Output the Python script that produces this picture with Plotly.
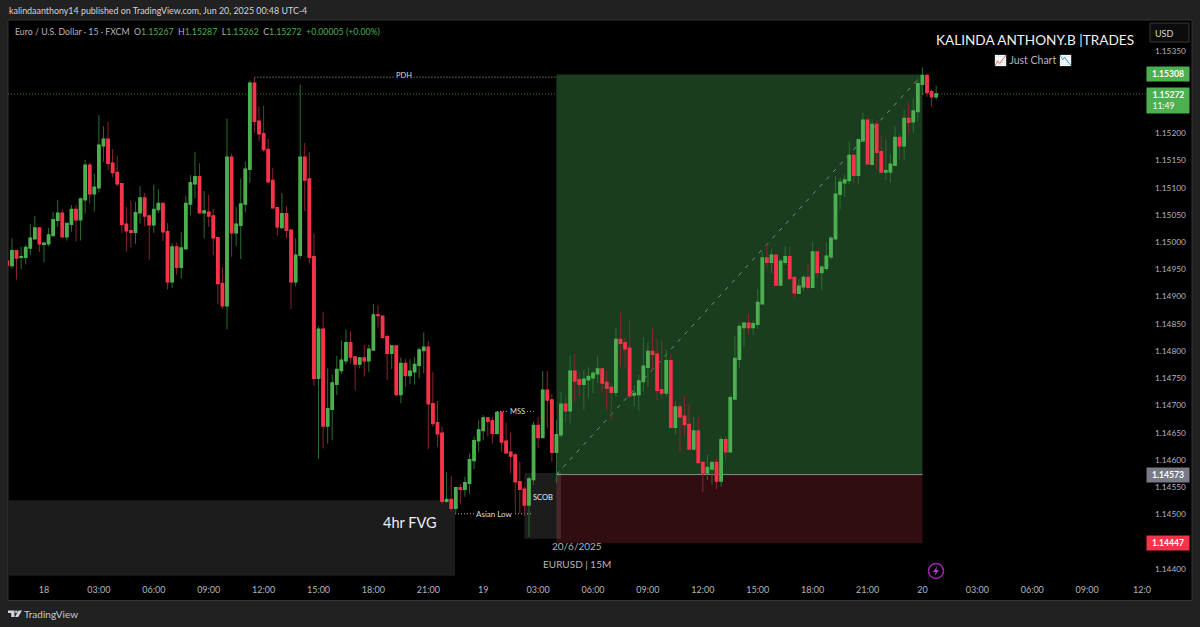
import pandas as pd
import plotly.graph_objects as go

# EURUSD 15m, values in points (price x 100000)
opens_pts = [114965,114957,114984,114972,114972,114989,115006,115026,114996,114997,115012,115040,115053,115010,115033,115060,115041,115078,115141,115089,
    115100,115177,115189,115145,115128,115107,115033,115021,115018,115054,115081,115048,115032,115060,115071,115019,114927,114991,114954,114988,
    115070,115107,115120,115054,115055,115048,115008,114924,114883,115156,115017,115031,115070,115134,115292,115222,115199,115170,115113,115063,
    115027,115052,115022,114927,114976,115156,115116,114973,114750,114840,114662,114693,114739,114764,114782,114815,114789,114776,114787,114782,
    114802,114866,114864,114826,114796,114809,114720,114777,114755,114762,114774,114801,114807,114703,114668,114649,114524,114527,114511,114549,
    114546,114557,114599,114635,114654,114677,114672,114649,114687,114634,114614,114609,114560,114546,114517,114564,114663,114641,114728,114710,
    114614,114646,114702,114690,114763,114747,114739,114747,114751,114758,114767,114742,114733,114724,114821,114815,114805,114719,114720,114744,
    114770,114799,114794,114729,114723,114782,114660,114697,114680,114665,114620,114653,114595,114576,114583,114595,114561,114637,114615,114712,
    114785,114843,114851,114843,114849,114887,114971,114963,114976,114921,114963,114973,114935,114906,114918,114935,114917,114982,114944,114952,
    114973,115006,115088,115109,115113,115159,115123,115186,115224,115143,115216,115166,115129,115129,115141,115192,115177,115227,115221,115240,
    115290,115306,115276,115267]
highs_pts = [114965,115007,114984,114992,114995,115033,115048,115026,114998,115026,115055,115077,115060,115035,115068,115068,115082,115151,115145,115126,
    115233,115213,115221,115171,115159,115108,115065,115077,115074,115103,115090,115049,115106,115097,115071,115035,114998,114999,115018,115085,
    115123,115166,115145,115094,115087,115061,115008,114954,115227,115162,115064,115117,115148,115297,115303,115249,115250,115190,115136,115063,
    115090,115066,115024,115007,115289,115182,115166,115016,114845,114872,114768,114757,114791,114819,114839,114836,114790,114788,114811,114812,
    114886,114884,114864,114831,114810,114809,114788,114785,114785,114789,114807,114834,114818,114761,114708,114661,114578,114570,114549,114556,
    114569,114612,114643,114673,114682,114679,114679,114689,114689,114668,114650,114613,114597,114551,114569,114670,114679,114763,114763,114721,
    114673,114725,114719,114791,114794,114762,114765,114770,114763,114790,114768,114763,114741,114843,114870,114824,114857,114737,114756,114825,
    114816,114843,114822,114820,114803,114794,114708,114705,114716,114702,114679,114678,114595,114609,114595,114603,114643,114643,114719,114827,
    114851,114852,114868,114856,114914,114982,114999,114987,114976,114968,114992,114993,114935,114932,114939,114959,115001,114984,114958,114999,
    115011,115121,115118,115123,115185,115160,115188,115238,115229,115226,115223,115196,115188,115162,115213,115200,115242,115256,115264,115300,
    115321,115310,115280,115287]
lows_pts = [114956,114951,114931,114950,114959,114976,115006,114982,114963,114992,115012,115028,115008,115003,115019,115001,115003,115052,115071,115056,
    115091,115148,115133,115119,115102,115016,114982,114990,114997,115034,115029,114968,115017,115053,115002,114913,114916,114940,114933,114988,
    115049,115081,115054,115007,115028,114976,114886,114877,114840,114973,114993,114969,115055,115109,115201,115185,115166,115110,115063,115012,
    115024,115007,114877,114918,114970,115057,114961,114736,114602,114621,114630,114636,114719,114758,114775,114777,114728,114768,114753,114761,
    114802,114843,114825,114747,114767,114717,114704,114734,114739,114738,114750,114759,114620,114661,114624,114519,114521,114505,114500,114520,
    114532,114538,114583,114615,114636,114643,114630,114646,114615,114611,114575,114502,114502,114497,114458,114554,114622,114641,114658,114597,
    114557,114641,114670,114667,114707,114716,114692,114713,114723,114741,114723,114692,114673,114716,114772,114768,114713,114698,114690,114725,
    114734,114765,114710,114713,114716,114660,114647,114615,114646,114619,114618,114594,114541,114563,114555,114546,114551,114601,114615,114712,
    114769,114808,114831,114829,114840,114887,114951,114943,114921,114921,114958,114933,114896,114906,114910,114913,114917,114934,114912,114947,
    114967,115006,115060,115083,115106,115108,115107,115186,115144,115143,115133,115128,115114,115109,115140,115152,115151,115200,115201,115223,
    115270,115267,115249,115262]
closes_pts = [114958,114984,114971,114973,114990,115007,115026,114997,114998,115013,115041,115053,115010,115034,115060,115041,115079,115141,115089,115101,
    115178,115189,115145,115128,115107,115033,115021,115018,115054,115081,115048,115032,115060,115071,115019,114927,114991,114954,114989,115071,
    115109,115120,115054,115057,115048,115008,114924,114883,115156,115017,115033,115070,115134,115292,115222,115199,115170,115111,115063,115028,
    115052,115022,114927,114976,115156,115114,114972,114750,114840,114662,114694,114741,114766,114783,114815,114789,114776,114787,114782,114803,
    114866,114865,114825,114796,114809,114720,114777,114755,114763,114775,114802,114807,114703,114667,114648,114524,114527,114511,114549,114546,
    114558,114600,114635,114655,114677,114671,114649,114687,114633,114613,114607,114560,114546,114517,114565,114663,114641,114728,114710,114614,
    114646,114702,114690,114763,114745,114739,114748,114753,114759,114767,114741,114732,114724,114821,114814,114804,114718,114722,114745,114772,
    114799,114794,114728,114723,114782,114660,114697,114679,114665,114620,114653,114595,114576,114586,114595,114561,114637,114615,114714,114786,
    114845,114851,114843,114850,114889,114971,114963,114976,114921,114965,114973,114933,114907,114919,114935,114917,114982,114944,114954,114974,
    115007,115088,115110,115114,115159,115123,115188,115224,115144,115216,115165,115129,115131,115143,115192,115177,115227,115220,115241,115291,
    115306,115275,115267,115272]

opens = [v / 1e5 for v in opens_pts]
highs = [v / 1e5 for v in highs_pts]
lows = [v / 1e5 for v in lows_pts]
closes = [v / 1e5 for v in closes_pts]
times = pd.date_range("2025-06-17 22:00", periods=len(opens), freq="15min")

# axis labels
price_ticks = [1.1535, 1.1520, 1.1515, 1.1510, 1.1505, 1.1500, 1.1495, 1.1490, 1.1485, 1.1480, 1.1475,
               1.1470, 1.1465, 1.1460, 1.1455, 1.1450, 1.1440]
time_ticks = ["2025-06-18 00:00", "2025-06-18 03:00", "2025-06-18 06:00", "2025-06-18 09:00", "2025-06-18 12:00",
              "2025-06-18 15:00", "2025-06-18 18:00", "2025-06-18 21:00", "2025-06-19 00:00", "2025-06-19 03:00",
              "2025-06-19 06:00", "2025-06-19 09:00", "2025-06-19 12:00", "2025-06-19 15:00", "2025-06-19 18:00",
              "2025-06-19 21:00", "2025-06-20 00:00", "2025-06-20 03:00", "2025-06-20 06:00", "2025-06-20 09:00",
              "2025-06-20 12:00"]
time_labels = ["18", "03:00", "06:00", "09:00", "12:00", "15:00", "18:00", "21:00", "19", "03:00", "06:00", "09:00",
               "12:00", "15:00", "18:00", "21:00", "20", "03:00", "06:00", "09:00", "12:0"]

# levels
target_price = 1.15308
entry_price = 1.14573
stop_price = 1.14447
last_price = 1.15272
pdh_price = 1.15303
mss_price = 1.14689
asian_low_price = 1.14501
fvg_top, fvg_bottom = 1.14526, 1.14387
scob_top, scob_bottom = 1.14576, 1.14455

UP = "#4caf50"
DOWN = "#f7334b"
UP_DIM = "#2a6e30"
DOWN_DIM = "#8a2530"
BG = "#212121"
GREY = "#b2b5be"
FONT = "Lato"


# page pixels to paper coordinates of the plot area
def px(x):
    return (x - 8) / 1140


def py(y):
    return (578 - y) / 558


fig = go.Figure()

# wicks first, then the bright bodies over them
fig.add_trace(go.Candlestick(
    x=times, open=opens, high=highs, low=lows, close=closes,
    increasing=dict(line=dict(color=UP_DIM, width=1), fillcolor=UP),
    decreasing=dict(line=dict(color=DOWN_DIM, width=1), fillcolor=DOWN),
    showlegend=False,
))
fig.add_trace(go.Candlestick(
    x=times, open=opens, close=closes,
    high=[max(o, c) for o, c in zip(opens, closes)],
    low=[min(o, c) for o, c in zip(opens, closes)],
    increasing=dict(line=dict(color=UP, width=1.5), fillcolor=UP),
    decreasing=dict(line=dict(color=DOWN, width=1.5), fillcolor=DOWN),
    showlegend=False,
))

shapes = [
    # black chart panel
    dict(type="rect", xref="paper", yref="paper", x0=px(8), x1=px(1192), y0=py(20), y1=py(600.5),
         fillcolor="#000000", line=dict(color="#333333", width=1), layer="below"),
    # position box
    dict(type="rect", x0=times[120], x1=times[200], y0=entry_price, y1=target_price,
         fillcolor="#1b3d1f", line=dict(width=0), layer="below"),
    dict(type="rect", x0=times[120], x1=times[200], y0=stop_price, y1=entry_price,
         fillcolor="#300d11", line=dict(width=0), layer="below"),
    dict(type="line", x0=times[120], x1=times[200], y0=entry_price, y1=entry_price,
         line=dict(color="#8a8f8a", width=1), layer="below"),
    dict(type="line", x0=times[120], x1=times[200], y0=entry_price, y1=target_price,
         line=dict(color="#7f8a7f", width=1, dash="4px,6px"), layer="below"),
    # zones
    dict(type="rect", xref="paper", x0=0, x1=px(455), y0=fvg_bottom, y1=fvg_top,
         fillcolor="#1c1c1c", line=dict(width=0), layer="below"),
    dict(type="rect", x0=times[113], x1=times[121], y0=scob_bottom, y1=scob_top,
         fillcolor="rgba(255,255,255,0.11)", line=dict(width=0), layer="below"),
    # last price and drawn levels
    dict(type="line", xref="paper", x0=0, x1=1, y0=last_price, y1=last_price,
         line=dict(color="#2f7a35", width=1, dash="1px,2px"), layer="below"),
    dict(type="line", x0=times[54], x1=times[120], y0=pdh_price, y1=pdh_price,
         line=dict(color="#aaaaaa", width=1, dash="1px,2px"), layer="below"),
    dict(type="line", x0=times[107], x1=times[115], y0=mss_price, y1=mss_price,
         line=dict(color="#aaaaaa", width=1, dash="1px,2px"), layer="below"),
    dict(type="line", xref="paper", x0=px(455), x1=px(533), y0=asian_low_price, y1=asian_low_price,
         line=dict(color="#aaaaaa", width=1, dash="1px,2px"), layer="below"),
    # USD button
    dict(type="rect", xref="paper", yref="paper", x0=px(1150), x1=px(1189), y0=py(23), y1=py(42),
         fillcolor="#0c0c0c", line=dict(color="#363636", width=1)),
    # flash icon
    dict(type="circle", xref="paper", yref="paper", x0=px(928.5), x1=px(943.5), y0=py(563.5), y1=py(578.5),
         line=dict(color="#9c27b0", width=1.5)),
    dict(type="path", xref="paper", yref="paper", fillcolor="#b040c8", line=dict(width=0),
         path=f"M {px(937.5)} {py(566)} L {px(933)} {py(572)} L {px(935.7)} {py(572)} L {px(934.5)} {py(576)} "
              f"L {px(939)} {py(570)} L {px(936.3)} {py(570)} Z"),
    # TradingView mark
    dict(type="path", xref="paper", yref="paper", fillcolor="#d1d4dc", line=dict(width=0),
         path=f"M {px(8)} {py(610.5)} L {px(14.5)} {py(610.5)} L {px(14.5)} {py(617)} L {px(11.2)} {py(617)} "
              f"L {px(11.2)} {py(613)} L {px(8)} {py(613)} Z"),
    dict(type="circle", xref="paper", yref="paper", fillcolor="#d1d4dc", line=dict(width=0),
         x0=px(15), x1=px(17.5), y0=py(610.5), y1=py(613)),
    dict(type="path", xref="paper", yref="paper", fillcolor="#d1d4dc", line=dict(width=0),
         path=f"M {px(18.5)} {py(610.5)} L {px(22)} {py(610.5)} L {px(18.2)} {py(617)} L {px(15)} {py(617)} Z"),
]


def label(text, x, y, size=9, color="#ffffff", xanchor="center", **kw):
    return dict(text=text, xref="paper", yref="paper", x=px(x), y=py(y), showarrow=False,
                xanchor=xanchor, yanchor="middle", font=dict(family=FONT, size=size, color=color), **kw)


def badge(text, y_price, fill, height=12, align="center"):
    return dict(text=text, xref="paper", yref="y", x=px(1168), y=y_price, showarrow=False, width=40, height=height,
                xanchor="center", yanchor="middle", bgcolor=fill, align=align,
                font=dict(family=FONT, size=8.6, color="#ffffff"))


annotations = [
    label("kalindaanthony14 published on TradingView.com, Jun 20, 2025 00:48 UTC-4", 7, 10.5, 8.9, "#d1d4dc", xanchor="left"),
    label("Euro / U.S. Dollar · 15 · FXCM  O<span style='color:#4caf50'>1.15267</span>  H<span style='color:#4caf50'>1.15287</span>  "
          "L<span style='color:#4caf50'>1.15262</span>  C<span style='color:#4caf50'>1.15272</span>  "
          "<span style='color:#4caf50'>+0.00005 (+0.00%)</span>", 13, 31, 8.75, GREY, xanchor="left"),
    label("KALINDA ANTHONY.B |TRADES", 1035, 40, 13.6, "#f0f0f0"),
    label("📈 Just Chart 📉", 1033, 61, 10.5, GREY),
    label("USD", 1164, 33, 9, "#d1d4dc"),
    label("TradingView", 51, 614, 10, "#c8cad0"),
    label("PDH", 404, 76, 7.5, "#dddddd", bgcolor="#000000"),
    label("MSS", 517, 411, 7.5, "#dddddd", bgcolor="#000000"),
    label("Asian Low", 494, 513.7, 8, "#dddddd", bgcolor="#000000"),
    label("SCOB", 543, 497, 7.5, "#eeeeee"),
    label("4hr FVG", 410, 522.5, 14.5, "#f0f0f0"),
    label("20/6/2025", 577, 545.7, 10, GREY),
    label("EURUSD | 15M", 577, 563.7, 10, GREY),
    badge(f"<b>{target_price:.5f}</b>", target_price, UP),
    badge(f"&nbsp;&nbsp;<b>{last_price:.5f}</b><br>&nbsp;&nbsp;11:49", last_price - 0.00011, UP, height=23, align="left"),
    badge(f"<b>{entry_price:.5f}</b>", entry_price, "#787b86"),
    badge(f"<b>{stop_price:.5f}</b>", stop_price, "#f7334b"),
]

fig.update_layout(
    width=1200, height=627,
    margin=dict(l=8, r=52, t=20, b=49),
    paper_bgcolor=BG, plot_bgcolor="#000000",
    font=dict(family=FONT, color=GREY, size=9),
    showlegend=False,
    shapes=shapes,
    annotations=annotations,
    hovermode=False,
    xaxis=dict(
        type="date", rangeslider=dict(visible=False),
        range=["2025-06-17 22:02:00", "2025-06-20 12:19:30"],
        tickmode="array", tickvals=time_ticks, ticktext=time_labels,
        showgrid=False, zeroline=False, showline=False, ticks="",
        ticklabelstandoff=5, tickfont=dict(family=FONT, size=9, color=GREY),
    ),
    yaxis=dict(
        side="right", range=[1.14383, 1.15408],
        tickmode="array", tickvals=price_ticks, ticktext=[f"{p:.5f}" for p in price_ticks],
        showgrid=False, zeroline=False, showline=False, ticks="",
        ticklabelstandoff=6, tickfont=dict(family=FONT, size=8.3, color=GREY),
    ),
)

# the browser's default body margin would shift the picture by 8px
fig.write_html("out.html", config={"displayModeBar": False},
               post_script="document.body.style.margin='0';document.body.style.background='#212121';")
